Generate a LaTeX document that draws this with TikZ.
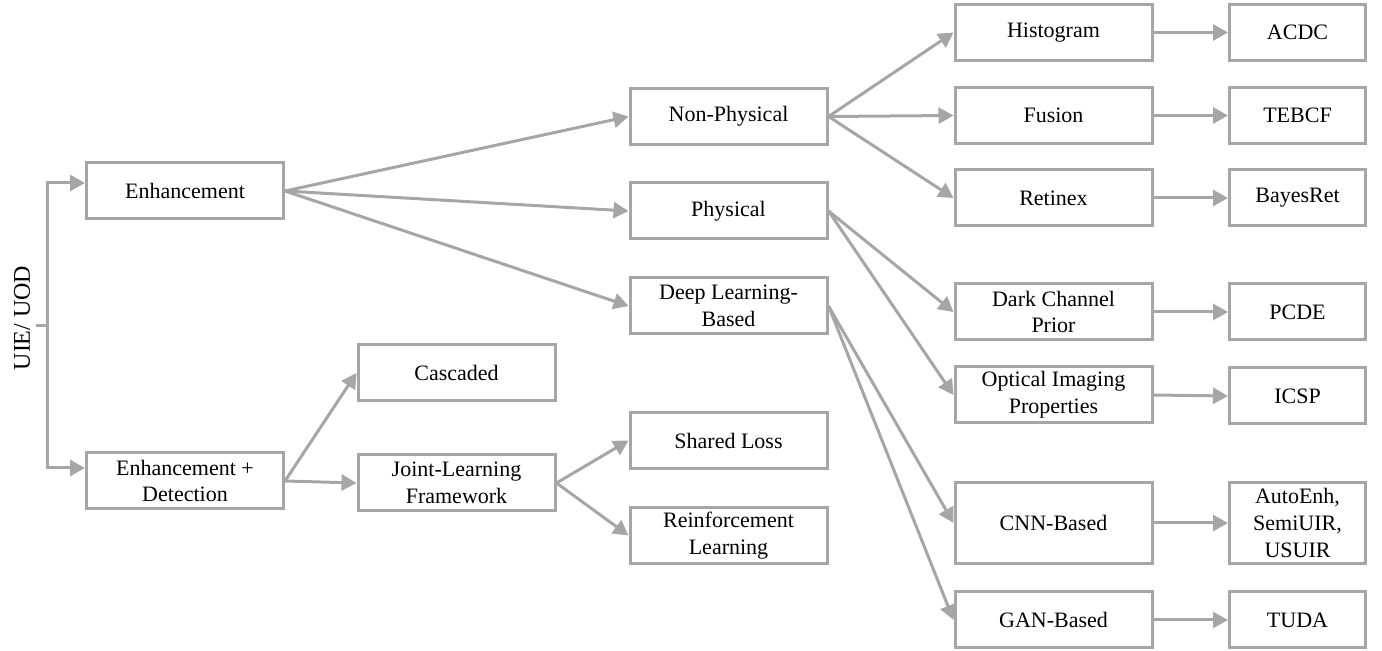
\documentclass[tikz,border=0pt]{standalone}
\usepackage{fontspec}
\setmainfont{Liberation Serif}
\usepackage[HTML]{xcolor}
\usetikzlibrary{positioning, arrows, arrows.meta}
\definecolor{linegray}{HTML}{A6A6A6}

\begin{document}
\begin{tikzpicture}[x=0.5pt, y=-0.5pt,
  box/.style={draw=linegray, line width=1.5pt, minimum width=98.5pt, minimum height=28pt, inner sep=0pt, align=center, font=\fontsize{11}{13.3}\selectfont},
  leaf/.style={box, minimum width=68pt},
  conn/.style={draw=linegray, line width=1.5pt, -{Triangle[length=7.5pt,width=8pt]}}]
\useasboundingbox (0,0) rectangle (1382,651);

% Root label and bracket
\node[rotate=90, font=\fontsize{12}{14}\selectfont] (root) at (22,318) {UIE/ UOD};
\coordinate (tick) at (36,326);
\coordinate (fork) at (47,326);

% First level
\node[box] (enh) at (185,191) {Enhancement};
\node[box] (enhdet) at (185,481) {Enhancement +\\Detection};

% Second level
\node[box] (nonphys) at (728.5,116.5) {Non-Physical};
\node[box] (phys) at (728.5,211) {Physical};
\node[box] (deep) at (728.5,306) {Deep Learning-\\Based};
\node[box] (casc) at (456.5,373) {Cascaded};
\node[box] (joint) at (456.5,483) {Joint-Learning\\Framework};
\node[box] (shared) at (728.5,440.5) {Shared Loss};
\node[box] (reinf) at (728.5,535.5) {Reinforcement\\Learning};

% Third level
\node[box] (hist) at (1053.5,32.5) {Histogram};
\node[box] (fusion) at (1053.5,115.5) {Fusion};
\node[box] (retinex) at (1053.5,198) {Retinex};
\node[box] (dark) at (1053.5,312) {Dark Channel\\Prior};
\node[box] (optical) at (1053.5,395) {Optical Imaging\\Properties};
\node[box, minimum height=40.5pt] (cnn) at (1053.5,523) {CNN-Based};
\node[box] (gan) at (1053.5,620) {GAN-Based};

% Methods
\node[leaf] (acdc) at (1297.5,32.5) {ACDC};
\node[leaf] (tebcf) at (1297.5,115.5) {TEBCF};
\node[leaf] (bayes) at (1297.5,198) {BayesRet};
\node[leaf] (pcde) at (1297.5,312) {PCDE};
\node[leaf] (icsp) at (1297.5,396) {ICSP};
\node[leaf, minimum height=40.5pt] (auto) at (1297.5,523) {AutoEnh,\\SemiUIR,\\USUIR};
\node[leaf] (tuda) at (1297.5,620) {TUDA};

% Bracket arrows
\draw[draw=linegray, line width=1.5pt] (tick) -- (fork);
\draw[conn] (fork) |- ([yshift=4pt]enh.west);
\draw[conn] (fork) |- ([yshift=6.5pt]enhdet.west);

% Enhancement branch
\draw[conn] (enh.east) -- (nonphys.west);
\draw[conn] (enh.east) -- (phys.west);
\draw[conn] (enh.east) -- (deep.west);
\draw[conn] (nonphys.east) -- (hist.west);
\draw[conn] (nonphys.east) -- (fusion.west);
\draw[conn] (nonphys.east) -- (retinex.west);
\draw[conn] (phys.east) -- (dark.west);
\draw[conn] (phys.east) -- (optical.west);
\draw[conn] (deep.east) -- (cnn.west);
\draw[conn] (deep.east) -- (gan.west);

% Methods
\draw[conn] (hist.east) -- (acdc.west);
\draw[conn] (fusion.east) -- (tebcf.west);
\draw[conn] (retinex.east) -- (bayes.west);
\draw[conn] (dark.east) -- (pcde.west);
\draw[conn] (optical.east) -- (icsp.west);
\draw[conn] (cnn.east) -- (auto.west);
\draw[conn] (gan.east) -- (tuda.west);

% Enhancement + detection branch
\draw[conn] (enhdet.east) -- (casc.west);
\draw[conn] (enhdet.east) -- (joint.west);
\draw[conn] (joint.east) -- (shared.west);
\draw[conn] (joint.east) -- (reinf.west);
\end{tikzpicture}
\end{document}
